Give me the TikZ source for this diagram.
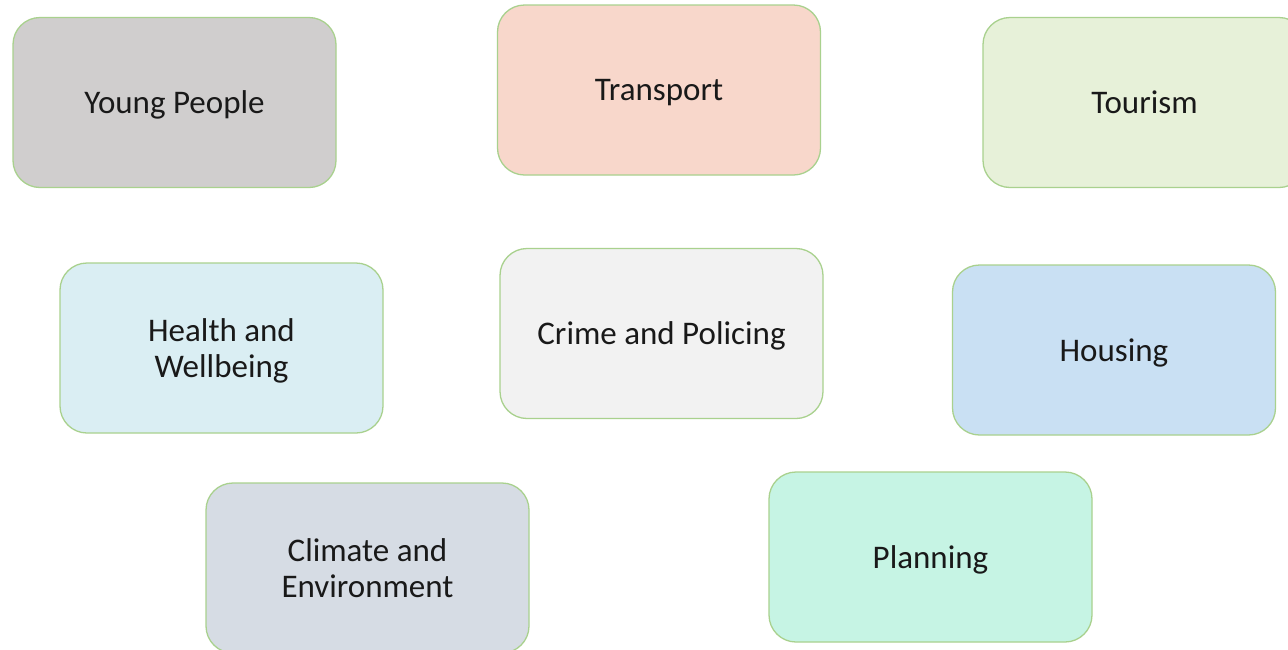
\documentclass[tikz,border=0pt]{standalone}
\usepackage{fontspec}
\setmainfont{Carlito}
\definecolor{bordergreen}{HTML}{A9D18E}
\definecolor{cYoung}{HTML}{D0CECE}
\definecolor{cTransport}{HTML}{F8D7CB}
\definecolor{cTourism}{HTML}{E7F1D9}
\definecolor{cHealth}{HTML}{DAEEF3}
\definecolor{cCrime}{HTML}{F2F2F2}
\definecolor{cHousing}{HTML}{C9E0F3}
\definecolor{cClimate}{HTML}{D6DCE4}
\definecolor{cPlanning}{HTML}{C6F4E4}
\tikzset{
  topicbox/.style={draw=bordergreen, line width=1.3pt, rounded corners=27pt,
    minimum width=323pt, minimum height=170pt, inner sep=0pt,
    align=center, text=black!90, text depth=0pt,
    font=\fontsize{33}{36}\selectfont}
}
\begin{document}
\begin{tikzpicture}[x=1pt,y=-1pt]
\useasboundingbox (0,0) rectangle (1288,649);
\clip (0,0) rectangle (1288,649);
\fill[white] (0,0) rectangle (1288,649);
\node[topicbox, fill=cYoung] (young) at (174.5,102.5) {Young People};
\node[topicbox, fill=cTransport] (transport) at (659,90) {Transport};
\node[topicbox, fill=cTourism] (tourism) at (1144.5,102.5) {Tourism};
\node[topicbox, fill=cHealth] (health) at (221.5,348) {Health and\\Wellbeing};
\node[topicbox, fill=cCrime] (crime) at (661.5,333.5) {Crime and Policing};
\node[topicbox, fill=cHousing] (housing) at (1114,350) {Housing};
\node[topicbox, fill=cClimate] (climate) at (367.5,568) {Climate and\\Environment};
\node[topicbox, fill=cPlanning] (planning) at (930.5,557) {Planning};
\end{tikzpicture}
\end{document}
